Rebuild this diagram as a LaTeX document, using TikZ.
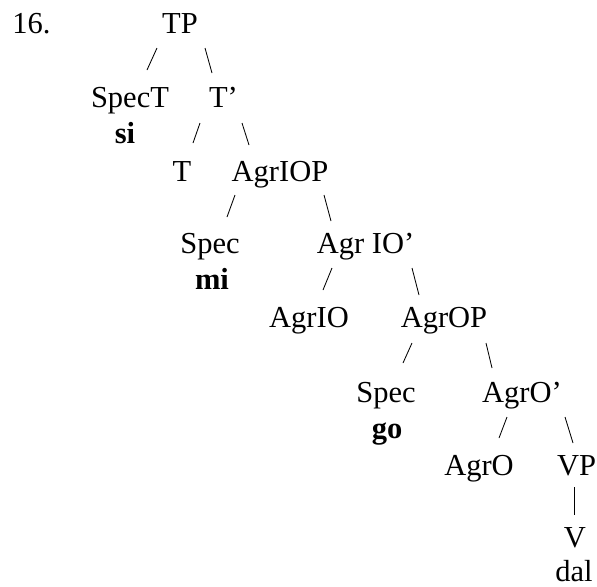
\documentclass[tikz,border=0pt]{standalone}
\usepackage{fontspec}
\setmainfont{Liberation Serif}
\usetikzlibrary{calc}

\begin{document}
\begin{tikzpicture}[
  font=\fontsize{21.7}{26}\selectfont,
  label/.style={anchor=base, inner sep=0pt},
  lex/.style={anchor=base, inner sep=0pt, font=\fontsize{21.7}{26}\selectfont\bfseries},
  branch/.style={draw=black, line width=0.6pt}
]
\useasboundingbox (0,0) rectangle (14.925,-14.65);

% Primer
\node[label, anchor=base west] (num) at (0.30,-0.825) {16.};

% Vozlisca drevesa
\node[label] (tp)       at (4.50,-0.825)    {TP};
\node[label] (spect)    at (3.25,-2.675)    {SpecT};
\node[label] (tbar)     at (5.5875,-2.675)  {T’};
\node[lex]   (si)       at (3.125,-3.575)   {si};
\node[label] (t)        at (4.55,-4.525)    {T};
\node[label] (agriop)   at (7.00,-4.525)    {AgrIOP};
\node[label] (specio)   at (5.25,-6.325)    {Spec};
\node[label] (agriobar) at (9.1375,-6.325)  {Agr IO’};
\node[lex]   (mi)       at (5.30,-7.225)    {mi};
\node[label] (agrio)    at (7.725,-8.175)   {AgrIO};
\node[label] (agrop)    at (11.10,-8.175)   {AgrOP};
\node[label] (speco)    at (9.65,-10.05)    {Spec};
\node[label] (agrobar)  at (13.05,-10.05)   {AgrO’};
\node[lex]   (go)       at (9.675,-10.95)   {go};
\node[label] (agro)     at (11.975,-11.875) {AgrO};
\node[label] (vp)       at (14.4125,-11.875){VP};
\node[label] (v)        at (14.375,-13.675) {V};
\node[label] (dal)      at (14.35,-14.54)   {dal};

% Veje
\draw[branch] ([shift={(-0.575,-0.375)}]tp.base)
  -- ([shift={(0.425,0.925)}]spect.base);
\draw[branch] ([shift={(0.625,-0.375)}]tp.base)
  -- ([shift={(-0.2875,0.85)}]tbar.base);
\draw[branch] ([shift={(-0.5875,-0.40)}]tbar.base)
  -- ([shift={(0.275,0.95)}]t.base);
\draw[branch] ([shift={(0.4625,-0.40)}]tbar.base)
  -- ([shift={(-0.775,0.90)}]agriop.base);
\draw[branch] ([shift={(-1.125,-0.35)}]agriop.base)
  -- ([shift={(0.425,0.90)}]specio.base);
\draw[branch] ([shift={(1.10,-0.35)}]agriop.base)
  -- ([shift={(-0.8625,0.80)}]agriobar.base);
\draw[branch] ([shift={(-0.8375,-0.375)}]agriobar.base)
  -- ([shift={(0.35,0.925)}]agrio.base);
\draw[branch] ([shift={(1.1625,-0.375)}]agriobar.base)
  -- ([shift={(-0.625,0.80)}]agrop.base);
\draw[branch] ([shift={(-0.80,-0.40)}]agrop.base)
  -- ([shift={(0.425,0.975)}]speco.base);
\draw[branch] ([shift={(1.05,-0.40)}]agrop.base)
  -- ([shift={(-0.75,0.85)}]agrobar.base);
\draw[branch] ([shift={(-0.375,-0.375)}]agrobar.base)
  -- ([shift={(0.50,0.925)}]agro.base);
\draw[branch] ([shift={(1.075,-0.375)}]agrobar.base)
  -- ([shift={(-0.0875,0.80)}]vp.base);
\draw[branch] ([shift={(-0.0625,-0.30)}]vp.base)
  -- ([shift={(-0.025,0.80)}]v.base);

\end{tikzpicture}
\end{document}
